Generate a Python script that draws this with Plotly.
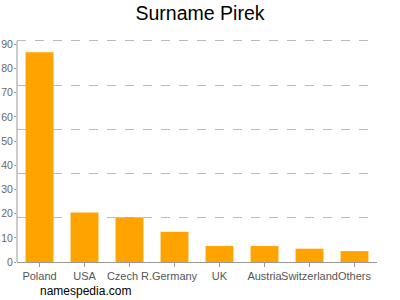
import plotly.graph_objects as go

categories = ["Poland", "USA", "Czech R.", "Germany", "UK", "Austria", "Switzerland", "Others"]
values = [86.8, 20.5, 18.5, 12.5, 6.6, 6.6, 5.5, 4.5]
y_ticks = [0, 10, 20, 30, 40, 50, 60, 70, 80, 90]
y_max = 93.5
grid_step = 91.5 / 5

fig = go.Figure()
fig.add_trace(go.Bar(x=categories, y=values, marker=dict(color="#FFA300", line=dict(width=0)),
                     width=0.62))
fig.add_trace(go.Scatter(x=categories[:1], y=[0], yaxis="y2", mode="markers",
                         marker=dict(opacity=0), showlegend=False, hoverinfo="skip"))

fig.update_layout(
    width=400, height=300,
    margin=dict(l=17, r=23, t=36, b=38),
    paper_bgcolor="white", plot_bgcolor="white",
    showlegend=False,
    font=dict(family="Liberation Sans, Arial, sans-serif", size=11, color="#666"),
    title=dict(text="Surname Pirek", x=0.5, xanchor="center", y=1 - 13.5 / 300, yanchor="middle",
               font=dict(size=19.5, color="#000")),
    xaxis=dict(showline=True, linecolor="#999", linewidth=1, ticks="outside", ticklen=4,
               tickcolor="#999", showgrid=False, tickfont=dict(size=11, color="#555"),
               tickangle=0, automargin=False),
    yaxis=dict(range=[0, y_max], tickvals=y_ticks, showgrid=False, showline=False,
               ticks="outside", ticklen=2, tickcolor="#999",
               tickfont=dict(size=10.5, color="#666"), zeroline=False, automargin=False,
               ticklabelstandoff=-1),
    yaxis2=dict(range=[0, y_max], overlaying="y", dtick=grid_step, tick0=0, showgrid=True,
                gridcolor="#bbb", griddash="dash", gridwidth=1, showticklabels=False,
                zeroline=False, side="right", automargin=False, ticks=""),
    shapes=[dict(type="line", xref="paper", yref="y", x0=0, x1=0, y0=0, y1=91.5,
                 line=dict(color="#999", width=1))],
    annotations=[dict(text="namespedia.com", x=(85 - 17) / 360, y=-(291 - 262) / 226,
                      xref="paper", yref="paper", xanchor="center", yanchor="middle",
                      showarrow=False, font=dict(size=12, color="#000"))],
)
fig.write_html("out.html")
